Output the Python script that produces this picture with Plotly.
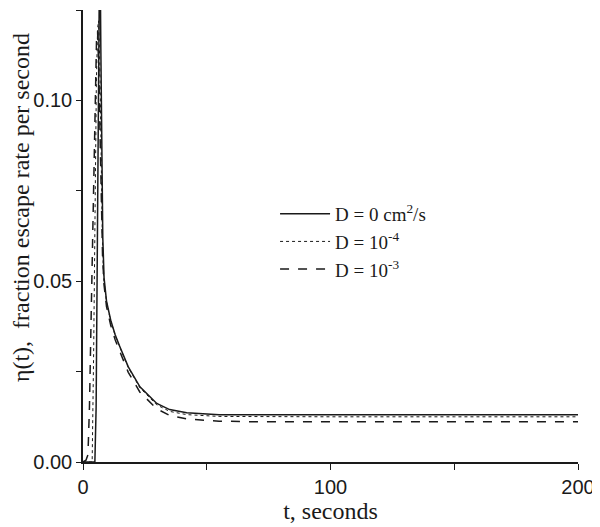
import plotly.graph_objects as go

# D = 0 cm^2/s (solid)
t_d0 = [0, 4.8, 5.3, 5.8, 6.3, 6.8, 7.2, 7.6, 8.0, 8.5, 9.5, 11.2, 13, 14.9, 18.3, 23, 29.8, 35, 41.9, 55, 70, 100, 150, 200]
eta_d0 = [0, 0, 0.015, 0.06, 0.115, 0.15, 0.115, 0.078, 0.062, 0.051, 0.0445, 0.0392, 0.0352, 0.0319, 0.0263,
          0.0208, 0.0162, 0.0145, 0.0136, 0.0131, 0.0131, 0.0131, 0.0131, 0.0131]

# D = 1e-4 (dotted)
t_d4 = [0, 3.7, 4.3, 4.9, 5.4, 5.9, 6.3, 6.8, 7.3, 7.8, 8.3, 9.5, 11.2, 13, 14.9, 18.3, 23, 29.8, 35, 41.9, 55, 70, 100, 150, 200]
eta_d4 = [0, 0, 0.03, 0.075, 0.105, 0.12, 0.122, 0.11, 0.085, 0.063, 0.051, 0.0443, 0.0390, 0.0350, 0.0317,
          0.0261, 0.0205, 0.0158, 0.0140, 0.0131, 0.0126, 0.0125, 0.0125, 0.0125, 0.0125]

# D = 1e-3 (dashed)
t_d3 = [0, 1.2, 2.0, 2.6, 3.2, 3.8, 4.4, 5.0, 5.5, 5.9, 6.4, 6.9, 7.4, 7.9, 8.5, 9.5, 11.2, 13, 14.9, 18.3, 23, 29.8,
        35, 41.9, 55, 70, 100, 150, 200]
eta_d3 = [0, 0.0005, 0.002, 0.015, 0.037, 0.06, 0.083, 0.105, 0.118, 0.119, 0.108, 0.09, 0.07, 0.057, 0.049, 0.043,
          0.0378, 0.0338, 0.0305, 0.0248, 0.0193, 0.0147, 0.0129, 0.0119, 0.0113, 0.0111, 0.0111, 0.0111, 0.0111]

y_ticks = [0, 0.05, 0.10]
y_labels = ["0.00", "0.05", "0.10"]
y_minor = [0.025, 0.075, 0.125]
x_ticks = [0, 100, 200]
x_labels = ["0", "100", "200"]
x_minor = [50, 150]

INK = "#1a1a1a"
SERIF = "Liberation Serif, Times New Roman, serif"
SANS = "Liberation Sans, Arial, sans-serif"

fig = go.Figure()
fig.add_trace(go.Scatter(x=t_d0, y=eta_d0, mode="lines", name="D = 0 cm<sup>2</sup>/s",
                         line=dict(color=INK, width=1.5)))
fig.add_trace(go.Scatter(x=t_d4, y=eta_d4, mode="lines", name="D = 10<sup>-4</sup>",
                         line=dict(color=INK, width=1, dash="dot")))
fig.add_trace(go.Scatter(x=t_d3, y=eta_d3, mode="lines", name="D = 10<sup>-3</sup>",
                         line=dict(color=INK, width=1.5, dash="dash")))

# page body has an 8px margin, so the figure is a bit smaller than the window
fig.update_layout(
    width=592, height=519,
    margin=dict(l=75, r=22, t=2, b=65),
    paper_bgcolor="white", plot_bgcolor="white",
    showlegend=True,
    legend=dict(x=0.388, y=0.591, xanchor="left", yanchor="top", itemwidth=50,
                bgcolor="rgba(0,0,0,0)", font=dict(family=SERIF, size=19, color=INK),
                tracegroupgap=0),
    xaxis=dict(range=[0, 200], showline=True, linecolor=INK, linewidth=1.5, automargin=False,
               ticks="outside", ticklen=6, tickcolor=INK, tickvals=x_ticks, ticktext=x_labels,
               minor=dict(tickvals=x_minor, ticks="outside", ticklen=6, tickcolor=INK, showgrid=False),
               showgrid=False, zeroline=False,
               tickfont=dict(family=SANS, size=20, color=INK),
               title=dict(text="t, seconds", font=dict(family=SERIF, size=24, color=INK), standoff=0)),
    yaxis=dict(range=[0, 0.125], showline=True, linecolor=INK, linewidth=1.5, automargin=False,
               ticks="outside", ticklen=5, tickcolor=INK, tickvals=y_ticks, ticktext=y_labels,
               minor=dict(tickvals=y_minor, ticks="outside", ticklen=5, tickcolor=INK, showgrid=False),
               showgrid=False, zeroline=False,
               tickfont=dict(family=SANS, size=20, color=INK)),
)

fig.add_annotation(
    text="\u03b7(t),\u00a0\u00a0fraction escape rate per second",
    xref="paper", yref="paper", x=-0.125, y=0.562, xanchor="center", yanchor="middle",
    textangle=-90, showarrow=False, font=dict(family=SERIF, size=24, color=INK),
)

fig.write_html("out.html")
